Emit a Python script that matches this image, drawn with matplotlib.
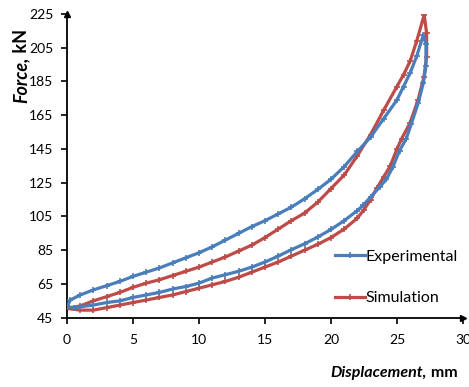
import numpy as np
import matplotlib
matplotlib.use('Agg')
import matplotlib.pyplot as plt

plt.rcParams['font.family'] = ['Lato', 'DejaVu Sans']

# Experimental loop: loading branch then unloading branch (mm, kN)
exp_x = [0, 0.25, 1, 2, 3, 4, 5, 6, 7, 8, 9, 10, 11, 12, 13, 14, 15, 16, 17, 18,
         19, 20, 21, 22, 23, 24, 25, 25.5, 26, 26.5, 27,
         27.2, 27.2, 27.0, 26.6, 26.1, 25.7, 25.2, 24.7, 24.2, 23.7, 23.0, 22.45,
         22, 21, 20, 19, 18, 17, 16, 15, 14, 13, 12, 11, 10, 9, 8, 7, 6, 5, 4, 3,
         2, 1, 0.5, 0]
exp_f = [51.5, 55.5, 58.5, 61.5, 64, 66.5, 69.5, 72, 74.5, 77.5, 80.5, 83.5, 87,
         91, 95, 99, 102.5, 106.5, 110.5, 115.5, 121, 127, 134.5, 143.5, 152,
         163, 174, 182, 190, 200, 212.5,
         207, 194, 184, 172, 160, 151, 144, 134.5, 127, 122.5, 116.5, 111.7,
         108.5, 102.5, 97.3, 92.8, 88.8, 85.3, 81.5, 78, 75, 72.5, 70.5, 68.5,
         65.5, 63.5, 62, 60, 58.5, 57, 55, 54, 52.5, 51.5, 51, 51.5]

# Simulation loop
sim_x = [0, 1, 2, 3, 4, 5, 6, 7, 8, 9, 10, 11, 12, 13, 14, 15, 16, 17, 18, 19,
         20, 21, 22, 23, 24, 25, 25.5, 26, 26.5, 27.07,
         27.25, 27.25, 27.05, 26.6, 25.98, 25.35, 25, 24.5, 24, 23.5, 23, 22.5,
         22, 21, 20, 19, 18, 17, 16, 15, 14, 13, 12, 11, 10, 9, 8, 7, 6, 5, 4, 3,
         2, 1, 0]
sim_f = [50.5, 52, 55, 57.5, 60, 63, 65.5, 67.5, 70, 72.5, 75, 78, 81, 84.5, 88,
         92.5, 97.5, 102.5, 107, 113.5, 121.5, 129.5, 141, 153.5, 168, 182, 189,
         197, 209, 224.5,
         213.5, 199.7, 187.8, 174, 160.2, 151, 145, 135, 128.5, 122, 115, 109,
         104, 97.5, 92.5, 88.5, 85, 81.5, 78, 75, 72, 69, 66.5, 64.5, 62.5, 60.5,
         58.5, 57, 55.5, 54, 52.5, 51, 49.5, 49.5, 50.5]

x_ticks = [0, 5, 10, 15, 20, 25, 30]
y_ticks = [45, 65, 85, 105, 125, 145, 165, 185, 205, 225]

blue = '#4a7ebb'
red = '#be4b48'

fig = plt.figure(figsize=(4.69, 3.87), dpi=100)
ax = fig.add_axes([0.143, 0.179, 0.844, 0.785])

ax.plot(exp_x, exp_f, color=blue, lw=2.3, marker='+', ms=4, mew=1.2,
        label='Experimental', zorder=3)
ax.plot(sim_x, sim_f, color=red, lw=2.3, marker='+', ms=4, mew=1.2,
        label='Simulation', zorder=2)

ax.set_xlim(0, 30)
ax.set_ylim(45, 225)
ax.set_xticks(x_ticks)
ax.set_yticks(y_ticks)
ax.tick_params(direction='out', length=4, width=1.2, labelsize=10, pad=6)
ax.tick_params(axis='x', pad=8)

for s in ['top', 'right']:
    ax.spines[s].set_visible(False)
for s in ['left', 'bottom']:
    ax.spines[s].set_linewidth(1.3)

# arrow heads at axis ends
ax.plot(0, 1.0, '^k', ms=5, transform=ax.transAxes, clip_on=False)
ax.plot(1.0, 0, '>k', ms=5, transform=ax.transAxes, clip_on=False)

leg = ax.legend(loc='upper left', bbox_to_anchor=(0.66, 0.245), frameon=False,
                fontsize=11.5, handlelength=1.9, handletextpad=0.0,
                labelspacing=1.7, borderaxespad=0)

# axis labels with mixed styles
t1 = fig.text(0.045, 0.734, 'Force,', rotation=90, fontsize=13,
              fontweight='bold', fontstyle='italic', ha='center', va='bottom')
ax.annotate(' kN', xy=(1, 1), xycoords=t1, rotation=90, fontsize=13,
            fontweight='bold', ha='right', va='bottom')

t2 = fig.text(0.705, 0.018, 'Displacement,', fontsize=11.5, fontweight='bold',
              fontstyle='italic', ha='left', va='bottom')
ax.annotate(' mm', xy=(1, 0), xycoords=t2, fontsize=11.5, fontweight='bold',
            ha='left', va='bottom')

fig.savefig('out.png', dpi=100)
